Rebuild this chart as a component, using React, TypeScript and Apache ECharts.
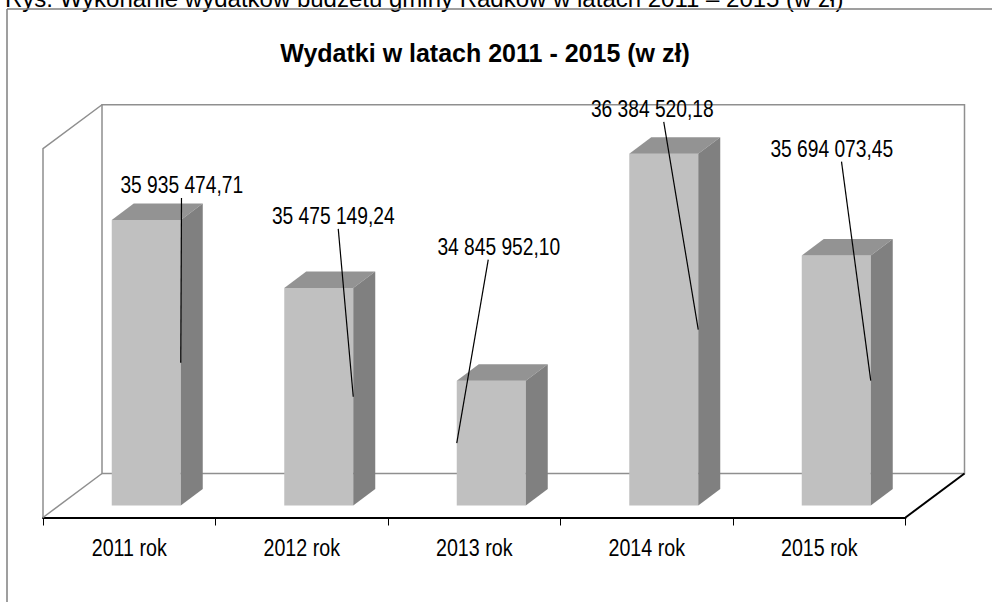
import React, { useEffect, useRef } from "react";
import * as echarts from "echarts";

const categories = ["2011 rok", "2012 rok", "2013 rok", "2014 rok", "2015 rok"];
const expenses = [35935474.71, 35475149.24, 34845952.1, 36384520.18, 35694073.45];
const axisMin = 34000000;
const axisMax = 36500000;
const chartTitle = "Wydatki w latach 2011 - 2015 (w zł)";
const caption = "Rys. Wykonanie wydatków budżetu gminy Radków w latach 2011 – 2015 (w zł)";

// layout constants (label offsets from each bar's front top-right corner)
const labelOffsets = [[1, -35], [-20, -72], [-27, -134], [-46, -45], [-39, -107]];
const leaderToLeftEdge = [false, false, true, false, false];

const FONT = "'Liberation Sans', Arial, sans-serif";
const NARROW_SCALE = 0.8;
const BAR_DEPTH = [22, -16.5];
const FRONT = [-17, 12];
const BACK = [42, -32];

function fmt(v: number): string {
  const [i, d] = v.toFixed(2).split(".");
  return i.replace(/\B(?=(\d{3})+(?!\d))/g, " ") + "," + d;
}

export default function App() {
  const ref = useRef<HTMLDivElement>(null);
  useEffect(() => {
    document.body.style.margin = "0";
    const chart = echarts.init(ref.current!, null, { renderer: "svg" });
    const wallColor = "#8f8f8f";
    const option: any = {
      animation: false,
      backgroundColor: "#ffffff",
      title: {
        text: chartTitle,
        left: 480,
        top: 35,
        textAlign: "center",
        textStyle: { fontFamily: FONT, fontSize: 25, fontWeight: "bold", color: "#000" },
      },
      graphic: [
        {
          type: "text",
          x: 5,
          y: 10,
          style: { text: caption, font: `24px ${FONT}`, fill: "#000", align: "left", verticalAlign: "bottom" },
        },
        { type: "line", shape: { x1: 7, y1: 9, x2: 992, y2: 9 }, style: { stroke: "#7f7f7f", lineWidth: 1.5 } },
        { type: "line", shape: { x1: 7, y1: 9, x2: 7, y2: 602 }, style: { stroke: "#7f7f7f", lineWidth: 1.5 } },
      ],
      grid: [
        { left: 60, width: 862.5, top: 136.75, height: 368.75 },
        { left: 43, width: 862.5, top: 148.75, height: 368.75 },
      ],
      xAxis: [
        { type: "category", data: categories, gridIndex: 0, show: false },
        {
          type: "category",
          data: categories,
          gridIndex: 1,
          axisLine: { lineStyle: { color: "#000", width: 2 } },
          axisTick: { show: true, length: 8, lineStyle: { color: "#000", width: 1 } },
          axisLabel: { show: false },
        },
      ],
      yAxis: [
        { type: "value", min: axisMin, max: axisMax, gridIndex: 0, show: false },
        { type: "value", min: axisMin, max: axisMax, gridIndex: 1, show: false },
      ],
      series: [
        {
          type: "custom",
          xAxisIndex: 0,
          yAxisIndex: 0,
          z: 1,
          data: [[0, axisMin]],
          renderItem: (params: any) => {
            const cs = params.coordSys;
            const gx0 = cs.x, gx1 = cs.x + cs.width, gy0 = cs.y, gy1 = cs.y + cs.height;
            const fl = gx0 + FRONT[0], fr = gx1 + FRONT[0], ft = gy0 + FRONT[1], fb = gy1 + FRONT[1];
            const bl = gx0 + BACK[0], br = gx1 + BACK[0], bt = gy0 + BACK[1], bb = gy1 + BACK[1];
            const st = { stroke: wallColor, lineWidth: 1.5, fill: "none" };
            return {
              type: "group",
              children: [
                { type: "polygon", shape: { points: [[bl, bt], [br, bt], [br, bb], [bl, bb]] }, style: st },
                { type: "polyline", shape: { points: [[fl, fb], [fl, ft], [bl, bt]] }, style: st },
                { type: "line", shape: { x1: fl, y1: fb, x2: bl, y2: bb }, style: { stroke: wallColor, lineWidth: 1.5 } },
                { type: "line", shape: { x1: fr, y1: fb, x2: br, y2: bb }, style: { stroke: "#000", lineWidth: 2 } },
              ],
            };
          },
        },
        {
          type: "custom",
          xAxisIndex: 1,
          yAxisIndex: 1,
          z: 1,
          data: categories.map((c, i) => [i, axisMin]),
          renderItem: (params: any, api: any) => {
            const p = api.coord([api.value(0), axisMin]);
            return {
              type: "text",
              x: p[0],
              y: p[1] + 30,
              scaleX: 0.82,
              style: {
                text: categories[params.dataIndex],
                fill: "#000",
                font: `24px ${FONT}`,
                align: "center",
                verticalAlign: "middle",
              },
            };
          },
        },
        {
          type: "custom",
          xAxisIndex: 0,
          yAxisIndex: 0,
          z: 2,
          data: expenses.map((v, i) => [i, v]),
          renderItem: (params: any, api: any) => {
            const idx = api.value(0);
            const val = api.value(1);
            const base = api.coord([idx, axisMin]);
            const top = api.coord([idx, val]);
            const w = api.size([1, 0])[0] * 0.4;
            const x0 = base[0] - w / 2, x1 = base[0] + w / 2, yb = base[1], yt = top[1];
            const [dx, dy] = BAR_DEPTH;
            const off = labelOffsets[params.dataIndex];
            const lx = x1 + off[0], ly = yt + off[1];
            const ex = leaderToLeftEdge[params.dataIndex] ? x0 : x1;
            const ey = (yt + yb) / 2;
            const sx = lx + 0.25 * (ex - lx), sy = ly + 13;
            return {
              type: "group",
              children: [
                { type: "polygon", shape: { points: [[x0, yt], [x1, yt], [x1, yb], [x0, yb]] }, style: { fill: "#c0c0c0" } },
                { type: "polygon", shape: { points: [[x0, yt], [x0 + dx, yt + dy], [x1 + dx, yt + dy], [x1, yt]] }, style: { fill: "#939393" } },
                { type: "polygon", shape: { points: [[x1, yt], [x1 + dx, yt + dy], [x1 + dx, yb + dy], [x1, yb]] }, style: { fill: "#808080" } },
                { type: "line", shape: { x1: sx, y1: sy, x2: ex, y2: ey }, style: { stroke: "#000", lineWidth: 1.2 } },
                {
                  type: "text",
                  x: lx,
                  y: ly,
                  scaleX: NARROW_SCALE,
                  style: { text: fmt(val), fill: "#000", font: `24px ${FONT}`, align: "center", verticalAlign: "middle" },
                },
              ],
            };
          },
        },
      ],
    };
    chart.setOption(option);
    return () => chart.dispose();
  }, []);
  return <div ref={ref} style={{ width: 992, height: 602 }} />;
}
